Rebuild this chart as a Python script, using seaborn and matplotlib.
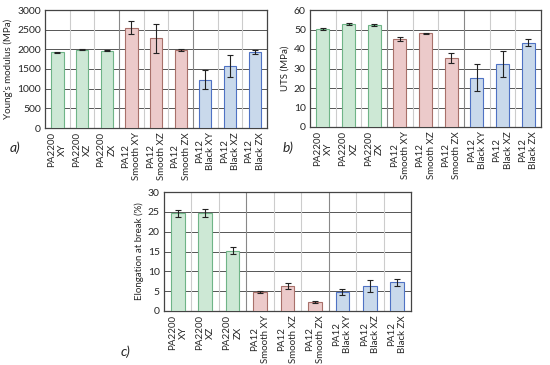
import numpy as np
import pandas as pd
import matplotlib
matplotlib.use('Agg')
import matplotlib.pyplot as plt
import seaborn as sns

labels = ['PA2200\nXY', 'PA2200\nXZ', 'PA2200\nZX',
          'PA12\nSmooth XY', 'PA12\nSmooth XZ', 'PA12\nSmooth ZX',
          'PA12\nBlack XY', 'PA12\nBlack XZ', 'PA12\nBlack ZX']
groups = ['PA2200'] * 3 + ['Smooth'] * 3 + ['Black'] * 3

young = [1920, 1990, 1960, 2550, 2280, 1980, 1230, 1580, 1930]
young_err = [20, 15, 15, 170, 370, 30, 250, 280, 60]
uts = [50.5, 52.8, 52.2, 45.3, 48.0, 35.4, 25.3, 32.2, 43.3]
uts_err = [0.5, 0.6, 0.6, 1.0, 0.4, 2.5, 7.0, 6.8, 1.7]
elong = [24.6, 24.6, 15.2, 4.8, 6.3, 2.2, 4.8, 6.3, 7.2]
elong_err = [0.8, 1.0, 0.9, 0.2, 0.7, 0.3, 0.8, 1.6, 0.8]

face = {'PA2200': '#c9ecd3', 'Smooth': '#f2c4c4', 'Black': '#c3d9f1'}
edge = {'PA2200': '#6fb487', 'Smooth': '#a8706a', 'Black': '#4f72c4'}

sns.set_theme(style='white')
plt.rcParams['font.family'] = ['Lato', 'DejaVu Sans']

fig = plt.figure(figsize=(5.5, 3.65), dpi=100)
W, H = 550, 365


def box(l, t, r, b):
    return [l / W, 1 - b / H, (r - l) / W, (b - t) / H]


def panel(rect, vals, errs, ylabel, ymax, step):
    ax = fig.add_axes(rect)
    df = pd.DataFrame({'label': labels, 'val': vals, 'group': groups})
    sns.barplot(data=df, x='label', y='val', hue='group', palette=face,
                dodge=False, width=0.5, legend=False, ax=ax, zorder=3)
    for cont, g in zip(ax.containers, ['PA2200', 'Smooth', 'Black']):
        for p in cont:
            p.set_edgecolor(edge[g])
            p.set_linewidth(0.8)
    ax.errorbar(np.arange(len(vals)), vals, yerr=errs, fmt='none',
                ecolor='#222222', elinewidth=0.8, capsize=2, capthick=0.8, zorder=4)
    ax.set_ylim(0, ymax)
    ax.set_xlim(-0.5, len(vals) - 0.5)
    ax.set_yticks(np.arange(0, ymax + step / 2, step))
    ax.yaxis.grid(True, color='#555555', linewidth=0.7, zorder=0)
    for xv in np.arange(0.5, len(vals) - 0.5):
        c = '#888888' if xv in (2.5, 5.5) else '#cccccc'
        ax.axvline(xv, color=c, linewidth=0.8, zorder=1)
    ax.set_axisbelow(True)
    ax.set_xlabel('')
    ax.set_ylabel(ylabel, fontsize=7, labelpad=3)
    ax.tick_params(axis='y', labelsize=7.5, pad=3, length=0)
    ax.tick_params(axis='x', labelsize=7, pad=3, length=0, rotation=90)
    for lab in ax.get_xticklabels():
        lab.set_linespacing(1.3)
    for s in ax.spines.values():
        s.set_color('#444444')
        s.set_linewidth(0.9)
    return ax


panel(box(45, 10, 267, 128), young, young_err, "Young's modulus (MPa)", 3000, 500)
panel(box(310, 10, 541, 127), uts, uts_err, 'UTS (MPa)', 60, 10)
panel(box(164, 192, 411, 311), elong, elong_err, 'Elongation at break (%)', 30, 5)

fig.text(10 / W, 1 - 148 / H, 'a)', fontsize=10, style='italic', va='center')
fig.text(283 / W, 1 - 148 / H, 'b)', fontsize=10, style='italic', va='center')
fig.text(121 / W, 1 - 352 / H, 'c)', fontsize=10, style='italic', va='center')

fig.savefig('out.png', dpi=100)
